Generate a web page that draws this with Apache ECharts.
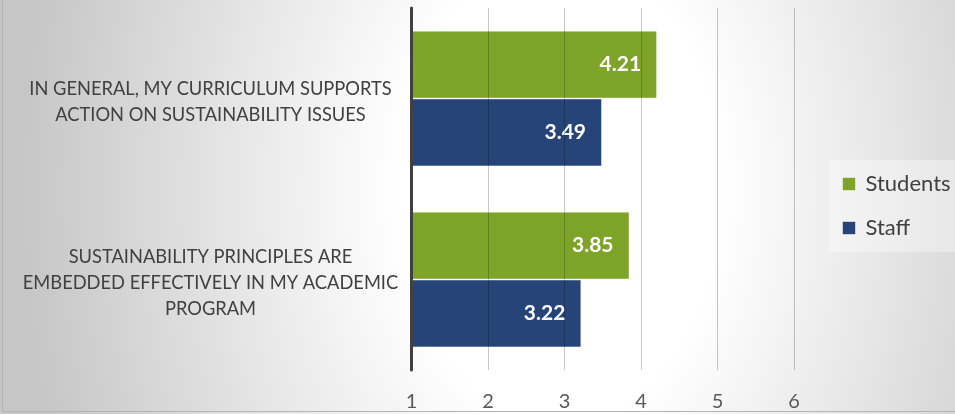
<!DOCTYPE html>
<html>
<head>
<meta charset="utf-8">
<script src="https://cdn.jsdelivr.net/npm/echarts@6/dist/echarts.min.js"></script>
<style>
  html, body { margin: 0; padding: 0; width: 955px; height: 414px; overflow: hidden; background: #d0d0d0; }
  #frame {
    position: absolute; left: 0; top: 0; width: 955px; height: 414px;
    background: radial-gradient(ellipse 540px 760px at 560px 190px, #ffffff 0%, #ffffff 30%, #c6c6c6 100%);
  }
  #frame::before {
    content: ""; position: absolute; left: 2px; top: 0; width: 1px; height: 412px; background: #b4b4b4;
  }
  #frame::after {
    content: ""; position: absolute; left: 2px; top: 411px; width: 953px; height: 1px; background: #b4b4b4;
  }
  #chart { position: absolute; left: 0; top: 0; width: 955px; height: 414px; }
</style>
</head>
<body>
<div id="frame"></div>
<div id="chart"></div>
<script>
// Survey statements (top to bottom) and mean agreement scores
const categories = [
  'IN GENERAL, MY CURRICULUM SUPPORTS\nACTION ON SUSTAINABILITY ISSUES',
  'SUSTAINABILITY PRINCIPLES ARE\nEMBEDDED EFFECTIVELY IN MY ACADEMIC\nPROGRAM'
];
const studentScores = [4.21, 3.85];
const staffScores = [3.49, 3.22];
const scaleTicks = [1, 2, 3, 4, 5, 6];

const FONT = 'Lato, "Open Sans", sans-serif';
const chart = echarts.init(document.getElementById('chart'));

function barSeries(name, data, color) {
  return {
    name: name,
    type: 'bar',
    data: data,
    barGap: '0%',
    barCategoryGap: '25%',
    itemStyle: { color: color, borderColor: 'rgba(255,255,255,0.45)', borderWidth: 1 },
    label: {
      show: true,
      position: 'insideRight',
      distance: 16,
      color: '#ffffff',
      fontFamily: FONT,
      fontWeight: 'bold',
      fontSize: 21,
      formatter: p => p.value.toFixed(2)
    }
  };
}

chart.setOption({
  backgroundColor: 'transparent',
  animation: false,
  grid: { left: 411.5, right: 161, top: 8, bottom: 44, containLabel: false },
  legend: {
    orient: 'vertical',
    left: 829,
    top: 160,
    padding: [13, 30, 13, 13],
    backgroundColor: 'rgba(255,255,255,0.35)',
    itemWidth: 13,
    itemHeight: 13,
    itemGap: 22,
    icon: 'rect',
    itemStyle: { borderColor: 'rgba(255,255,255,0.5)', borderWidth: 1 },
    textStyle: { color: '#404040', fontFamily: FONT, fontSize: 22, lineHeight: 22, padding: [0, 0, 0, 5] },
    data: ['Students', 'Staff']
  },
  xAxis: {
    type: 'value',
    min: scaleTicks[0],
    max: scaleTicks[scaleTicks.length - 1],
    interval: 1,
    z: 3,
    axisLine: { show: false },
    axisTick: { show: false },
    splitLine: { show: true, lineStyle: { color: 'rgba(0,0,0,0.22)', width: 1 } },
    axisLabel: { color: '#595959', fontFamily: FONT, fontSize: 20, margin: 22 }
  },
  yAxis: {
    type: 'category',
    inverse: true,
    data: categories,
    z: 4,
    axisLine: { show: true, lineStyle: { color: '#404040', width: 3 } },
    axisTick: { show: false },
    axisLabel: {
      color: '#404040',
      fontFamily: FONT,
      fontSize: 18.3,
      align: 'center',
      margin: 201,
      // a thin spacer line on top nudges the centred block downward
      formatter: v => '{s| }\n' + v.split('\n').map(s => '{t|' + s + '}').join('\n'),
      rich: {
        s: { fontSize: 1, lineHeight: 7 },
        t: {
          color: '#404040',
          fontFamily: FONT,
          fontSize: 18.3,
          lineHeight: 26,
          align: 'center'
        }
      }
    }
  },
  series: [
    barSeries('Students', studentScores, '#7DA428'),
    barSeries('Staff', staffScores, '#264478')
  ]
});
</script>
</body>
</html>
